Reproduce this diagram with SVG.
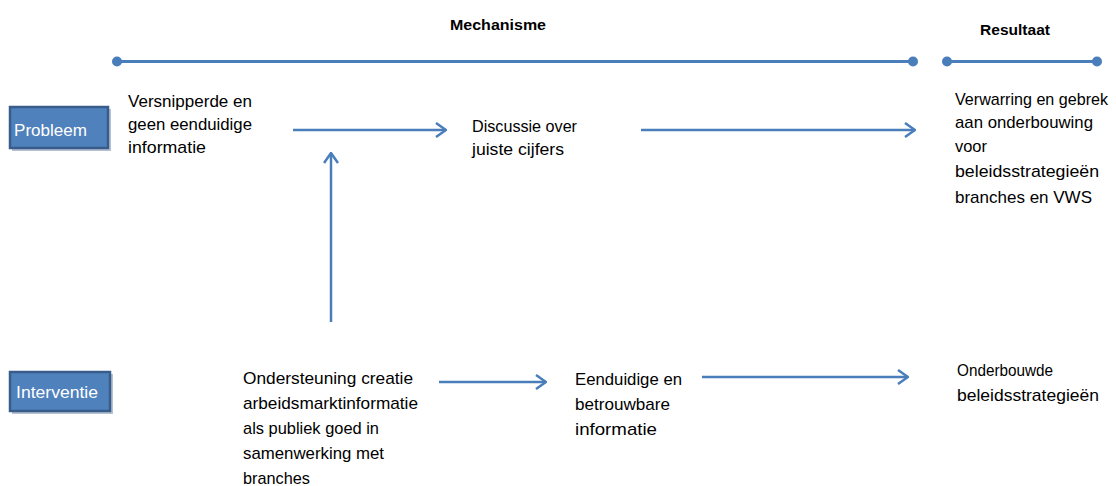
<svg xmlns="http://www.w3.org/2000/svg" width="1116" height="486" viewBox="0 0 1116 486">
<defs>
<style>
.t{font-family:"Liberation Sans",Arial,sans-serif;font-size:17px;fill:#000}
.h{font-family:"Liberation Sans",Arial,sans-serif;font-size:15px;font-weight:bold;fill:#000}
.bt{font-family:"Liberation Sans",Arial,sans-serif;font-size:17px;fill:#fff}
.box{fill:#4F81BD;stroke:#385D8A;stroke-width:2.5}
.ln{stroke:#4A7EBB;stroke-width:3;fill:none}
.ar{stroke:#4A7EBB;stroke-width:2.5;fill:none;marker-end:url(#arr)}
.dot{fill:#4A7EBB}
</style>
<marker id="arr" viewBox="0 0 12 16" refX="11" refY="8" markerWidth="12" markerHeight="16" markerUnits="userSpaceOnUse" orient="auto">
<path d="M1,1 L11,8 L1,15" fill="none" stroke="#4A7EBB" stroke-width="2.5"/>
</marker>
</defs>
<rect width="1116" height="486" fill="#fff"/>
<g id="headers">
<text class="h" x="450" y="30" textLength="96" lengthAdjust="spacingAndGlyphs">Mechanisme</text>
<text class="h" x="980" y="35" textLength="70" lengthAdjust="spacingAndGlyphs">Resultaat</text>
</g>
<g id="timeline">
<line class="ln" x1="117" y1="61.5" x2="913" y2="61.5"/>
<circle class="dot" cx="117" cy="61.5" r="5"/>
<circle class="dot" cx="913" cy="61.5" r="5"/>
<line class="ln" x1="947" y1="61.5" x2="1097" y2="61.5"/>
<circle class="dot" cx="947" cy="61.5" r="5"/>
<circle class="dot" cx="1097" cy="61.5" r="5"/>
</g>
<g id="probleem">
<rect x="12" y="109" width="99" height="42" fill="#2F4F78" opacity="0.35"/>
<rect class="box" x="10" y="107" width="98" height="41"/>
<text class="bt" x="14" y="136" textLength="73" lengthAdjust="spacingAndGlyphs">Probleem</text>
</g>
<g id="interventie">
<rect x="12" y="374" width="101" height="40" fill="#2F4F78" opacity="0.35"/>
<rect class="box" x="10" y="372" width="100" height="39"/>
<text class="bt" x="16" y="398" textLength="82" lengthAdjust="spacingAndGlyphs">Interventie</text>
</g>
<g id="versnipperd">
<text class="t" x="128" y="107" textLength="124" lengthAdjust="spacingAndGlyphs">Versnipperde en</text>
<text class="t" x="128" y="130" textLength="124" lengthAdjust="spacingAndGlyphs">geen eenduidige</text>
<text class="t" x="128" y="153" textLength="78" lengthAdjust="spacingAndGlyphs">informatie</text>
</g>
<g id="discussie">
<text class="t" x="472" y="132" textLength="105" lengthAdjust="spacingAndGlyphs">Discussie over</text>
<text class="t" x="472" y="155" textLength="92" lengthAdjust="spacingAndGlyphs">juiste cijfers</text>
</g>
<g id="verwarring">
<text class="t" x="955" y="105" textLength="153" lengthAdjust="spacingAndGlyphs">Verwarring en gebrek</text>
<text class="t" x="955" y="128" textLength="138" lengthAdjust="spacingAndGlyphs">aan onderbouwing</text>
<text class="t" x="955" y="152" textLength="32" lengthAdjust="spacingAndGlyphs">voor</text>
<text class="t" x="955" y="177" textLength="144" lengthAdjust="spacingAndGlyphs">beleidsstrategieën</text>
<text class="t" x="955" y="203" textLength="137" lengthAdjust="spacingAndGlyphs">branches en VWS</text>
</g>
<g id="ondersteuning">
<text class="t" x="243" y="384" textLength="170" lengthAdjust="spacingAndGlyphs">Ondersteuning creatie</text>
<text class="t" x="243" y="409" textLength="175" lengthAdjust="spacingAndGlyphs">arbeidsmarktinformatie</text>
<text class="t" x="243" y="434" textLength="136" lengthAdjust="spacingAndGlyphs">als publiek goed in</text>
<text class="t" x="243" y="459" textLength="141" lengthAdjust="spacingAndGlyphs">samenwerking met</text>
<text class="t" x="243" y="484" textLength="67" lengthAdjust="spacingAndGlyphs">branches</text>
</g>
<g id="eenduidig">
<text class="t" x="575" y="385" textLength="107" lengthAdjust="spacingAndGlyphs">Eenduidige en</text>
<text class="t" x="575" y="410" textLength="95" lengthAdjust="spacingAndGlyphs">betrouwbare</text>
<text class="t" x="575" y="435" textLength="82" lengthAdjust="spacingAndGlyphs">informatie</text>
</g>
<g id="onderbouwd">
<text class="t" x="957" y="376" textLength="96" lengthAdjust="spacingAndGlyphs">Onderbouwde</text>
<text class="t" x="957" y="401" textLength="142" lengthAdjust="spacingAndGlyphs">beleidsstrategieën</text>
</g>
<g id="connectors">
<line class="ar" x1="293" y1="130" x2="446" y2="130"/>
<line class="ar" x1="641" y1="130" x2="915" y2="130"/>
<line class="ar" x1="331" y1="322" x2="331" y2="153"/>
<line class="ar" x1="439" y1="382" x2="546" y2="382"/>
<line class="ar" x1="702" y1="377" x2="908" y2="377"/>
</g>
</svg>
